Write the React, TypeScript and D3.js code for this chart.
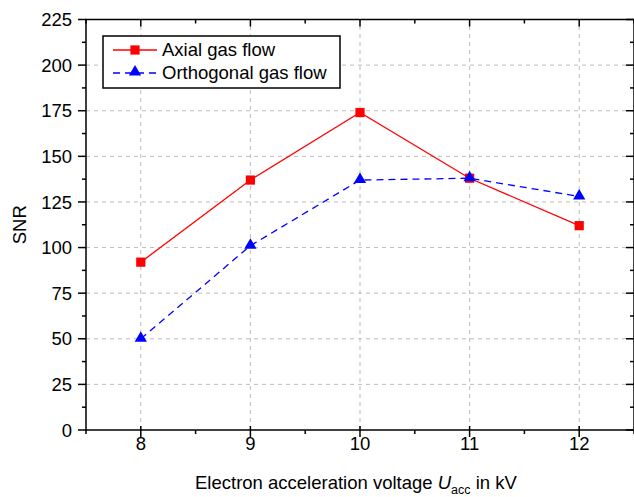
import { useEffect, useRef } from "react";
import * as d3 from "d3";

const voltages = [8, 9, 10, 11, 12];
const axialSNR = [92, 137, 174, 138, 112];
const orthogonalSNR = [50, 101, 137, 138, 128];
const yTicks = [0, 25, 50, 75, 100, 125, 150, 175, 200, 225];

const W = 634;
const H = 497;
const margin = { left: 86, right: 0, top: 19.5, bottom: 67 };

function App() {
  const svgRef = useRef<SVGSVGElement>(null);

  useEffect(() => {
    const svg = d3.select(svgRef.current);
    svg.selectAll("*").remove();

    const x = d3.scaleLinear().domain([7.5, 12.5]).range([margin.left, W - margin.right]);
    const y = d3.scaleLinear().domain([0, 225]).range([H - margin.bottom, margin.top]);
    const x0 = x.range()[0], x1 = x.range()[1];
    const y0 = y.range()[0], y1 = y.range()[1];

    const font = "Arial, 'Liberation Sans', sans-serif";
    const fs = 18.5;

    // grid
    const grid = svg.append("g").attr("stroke", "#bdbdbd").attr("stroke-dasharray", "4,4").attr("stroke-width", 1);
    voltages.forEach((v) => {
      grid.append("line").attr("x1", x(v)).attr("x2", x(v)).attr("y1", y0).attr("y2", y1);
    });
    yTicks.slice(1, -1).forEach((t) => {
      grid.append("line").attr("x1", x0).attr("x2", x1).attr("y1", y(t)).attr("y2", y(t));
    });

    // ticks
    const ax = svg.append("g").attr("stroke", "#000").attr("stroke-width", 1.5);
    const xMinor = d3.range(7.5, 12.51, 0.5).filter((v) => !voltages.includes(v));
    voltages.forEach((v) => {
      ax.append("line").attr("x1", x(v)).attr("x2", x(v)).attr("y1", y0 - 4).attr("y2", y0 + 7);
      ax.append("line").attr("x1", x(v)).attr("x2", x(v)).attr("y1", y1).attr("y2", y1 + 7);
    });
    xMinor.forEach((v) => {
      ax.append("line").attr("x1", x(v)).attr("x2", x(v)).attr("y1", y0).attr("y2", y0 + 4);
      ax.append("line").attr("x1", x(v)).attr("x2", x(v)).attr("y1", y1).attr("y2", y1 + 4);
    });
    yTicks.forEach((t) => {
      ax.append("line").attr("x1", x0 - 8).attr("x2", x0).attr("y1", y(t)).attr("y2", y(t));
      ax.append("line").attr("x1", x1 - 8).attr("x2", x1).attr("y1", y(t)).attr("y2", y(t));
    });
    d3.range(12.5, 225, 25).forEach((t) => {
      ax.append("line").attr("x1", x0 - 4).attr("x2", x0).attr("y1", y(t)).attr("y2", y(t));
      ax.append("line").attr("x1", x1 - 4).attr("x2", x1).attr("y1", y(t)).attr("y2", y(t));
    });

    // frame
    svg.append("rect").attr("x", x0).attr("y", y1).attr("width", x1 - x0).attr("height", y0 - y1)
      .attr("fill", "none").attr("stroke", "#000").attr("stroke-width", 1.5);

    // tick labels
    svg.append("g").selectAll("text").data(voltages).join("text")
      .attr("x", (d) => x(d)).attr("y", y0 + 19.5).attr("text-anchor", "middle")
      .attr("font-family", font).attr("font-size", fs).text((d) => d);
    svg.append("g").selectAll("text").data(yTicks).join("text")
      .attr("x", x0 - 14).attr("y", (d) => y(d) + 6.6).attr("text-anchor", "end")
      .attr("font-family", font).attr("font-size", fs).text((d) => d);

    // axis titles
    const xt = svg.append("text").attr("x", 195).attr("y", 489)
      .attr("font-family", font).attr("font-size", fs);
    xt.append("tspan").text("Electron acceleration voltage ");
    xt.append("tspan").attr("font-style", "italic").text("U");
    xt.append("tspan").attr("font-size", 12.5).attr("dy", 4.5).text("acc");
    xt.append("tspan").attr("dy", -4.5).text(" in kV");

    svg.append("text").attr("transform", `translate(26,${(y0 + y1) / 2}) rotate(-90)`)
      .attr("text-anchor", "middle").attr("font-family", font).attr("font-size", fs).text("SNR");

    // series
    const line = d3.line<number>().x((_, i) => x(voltages[i])).y((d) => y(d));
    svg.append("path").attr("d", line(axialSNR)).attr("fill", "none").attr("stroke", "#ff0000").attr("stroke-width", 1.3);
    svg.append("path").attr("d", line(orthogonalSNR)).attr("fill", "none").attr("stroke", "#0000ff")
      .attr("stroke-width", 1.3).attr("stroke-dasharray", "7,5");

    const sq = d3.symbol().type(d3.symbolSquare).size(85);
    const tri = d3.symbol().type(d3.symbolTriangle).size(65);
    svg.append("g").selectAll("path").data(axialSNR).join("path")
      .attr("d", sq).attr("fill", "#ff0000")
      .attr("transform", (d, i) => `translate(${x(voltages[i])},${y(d)})`);
    svg.append("g").selectAll("path").data(orthogonalSNR).join("path")
      .attr("d", tri).attr("fill", "#0000ff")
      .attr("transform", (d, i) => `translate(${x(voltages[i])},${y(d) - 0.5})`);

    // legend
    const lg = svg.append("g");
    lg.append("rect").attr("x", 103).attr("y", 36).attr("width", 237).attr("height", 52)
      .attr("fill", "#fff").attr("stroke", "#000").attr("stroke-width", 1.5);
    lg.append("line").attr("x1", 113).attr("x2", 157).attr("y1", 50).attr("y2", 50)
      .attr("stroke", "#ff0000").attr("stroke-width", 1.3);
    lg.append("path").attr("d", sq).attr("fill", "#ff0000").attr("transform", "translate(135,50)");
    lg.append("line").attr("x1", 113).attr("x2", 157).attr("y1", 73).attr("y2", 73)
      .attr("stroke", "#0000ff").attr("stroke-width", 1.3).attr("stroke-dasharray", "7,5");
    lg.append("path").attr("d", tri).attr("fill", "#0000ff").attr("transform", "translate(135,72)");
    lg.append("text").attr("x", 162).attr("y", 55.5).attr("font-family", font).attr("font-size", fs).text("Axial gas flow");
    lg.append("text").attr("x", 162).attr("y", 79).attr("font-family", font).attr("font-size", fs).text("Orthogonal gas flow");
  }, []);

  return (
    <div style={{ position: "absolute", left: 0, top: 0 }}>
      <svg ref={svgRef} width={W} height={H} style={{ display: "block", background: "#fff" }} />
    </div>
  );
}

export default App;
